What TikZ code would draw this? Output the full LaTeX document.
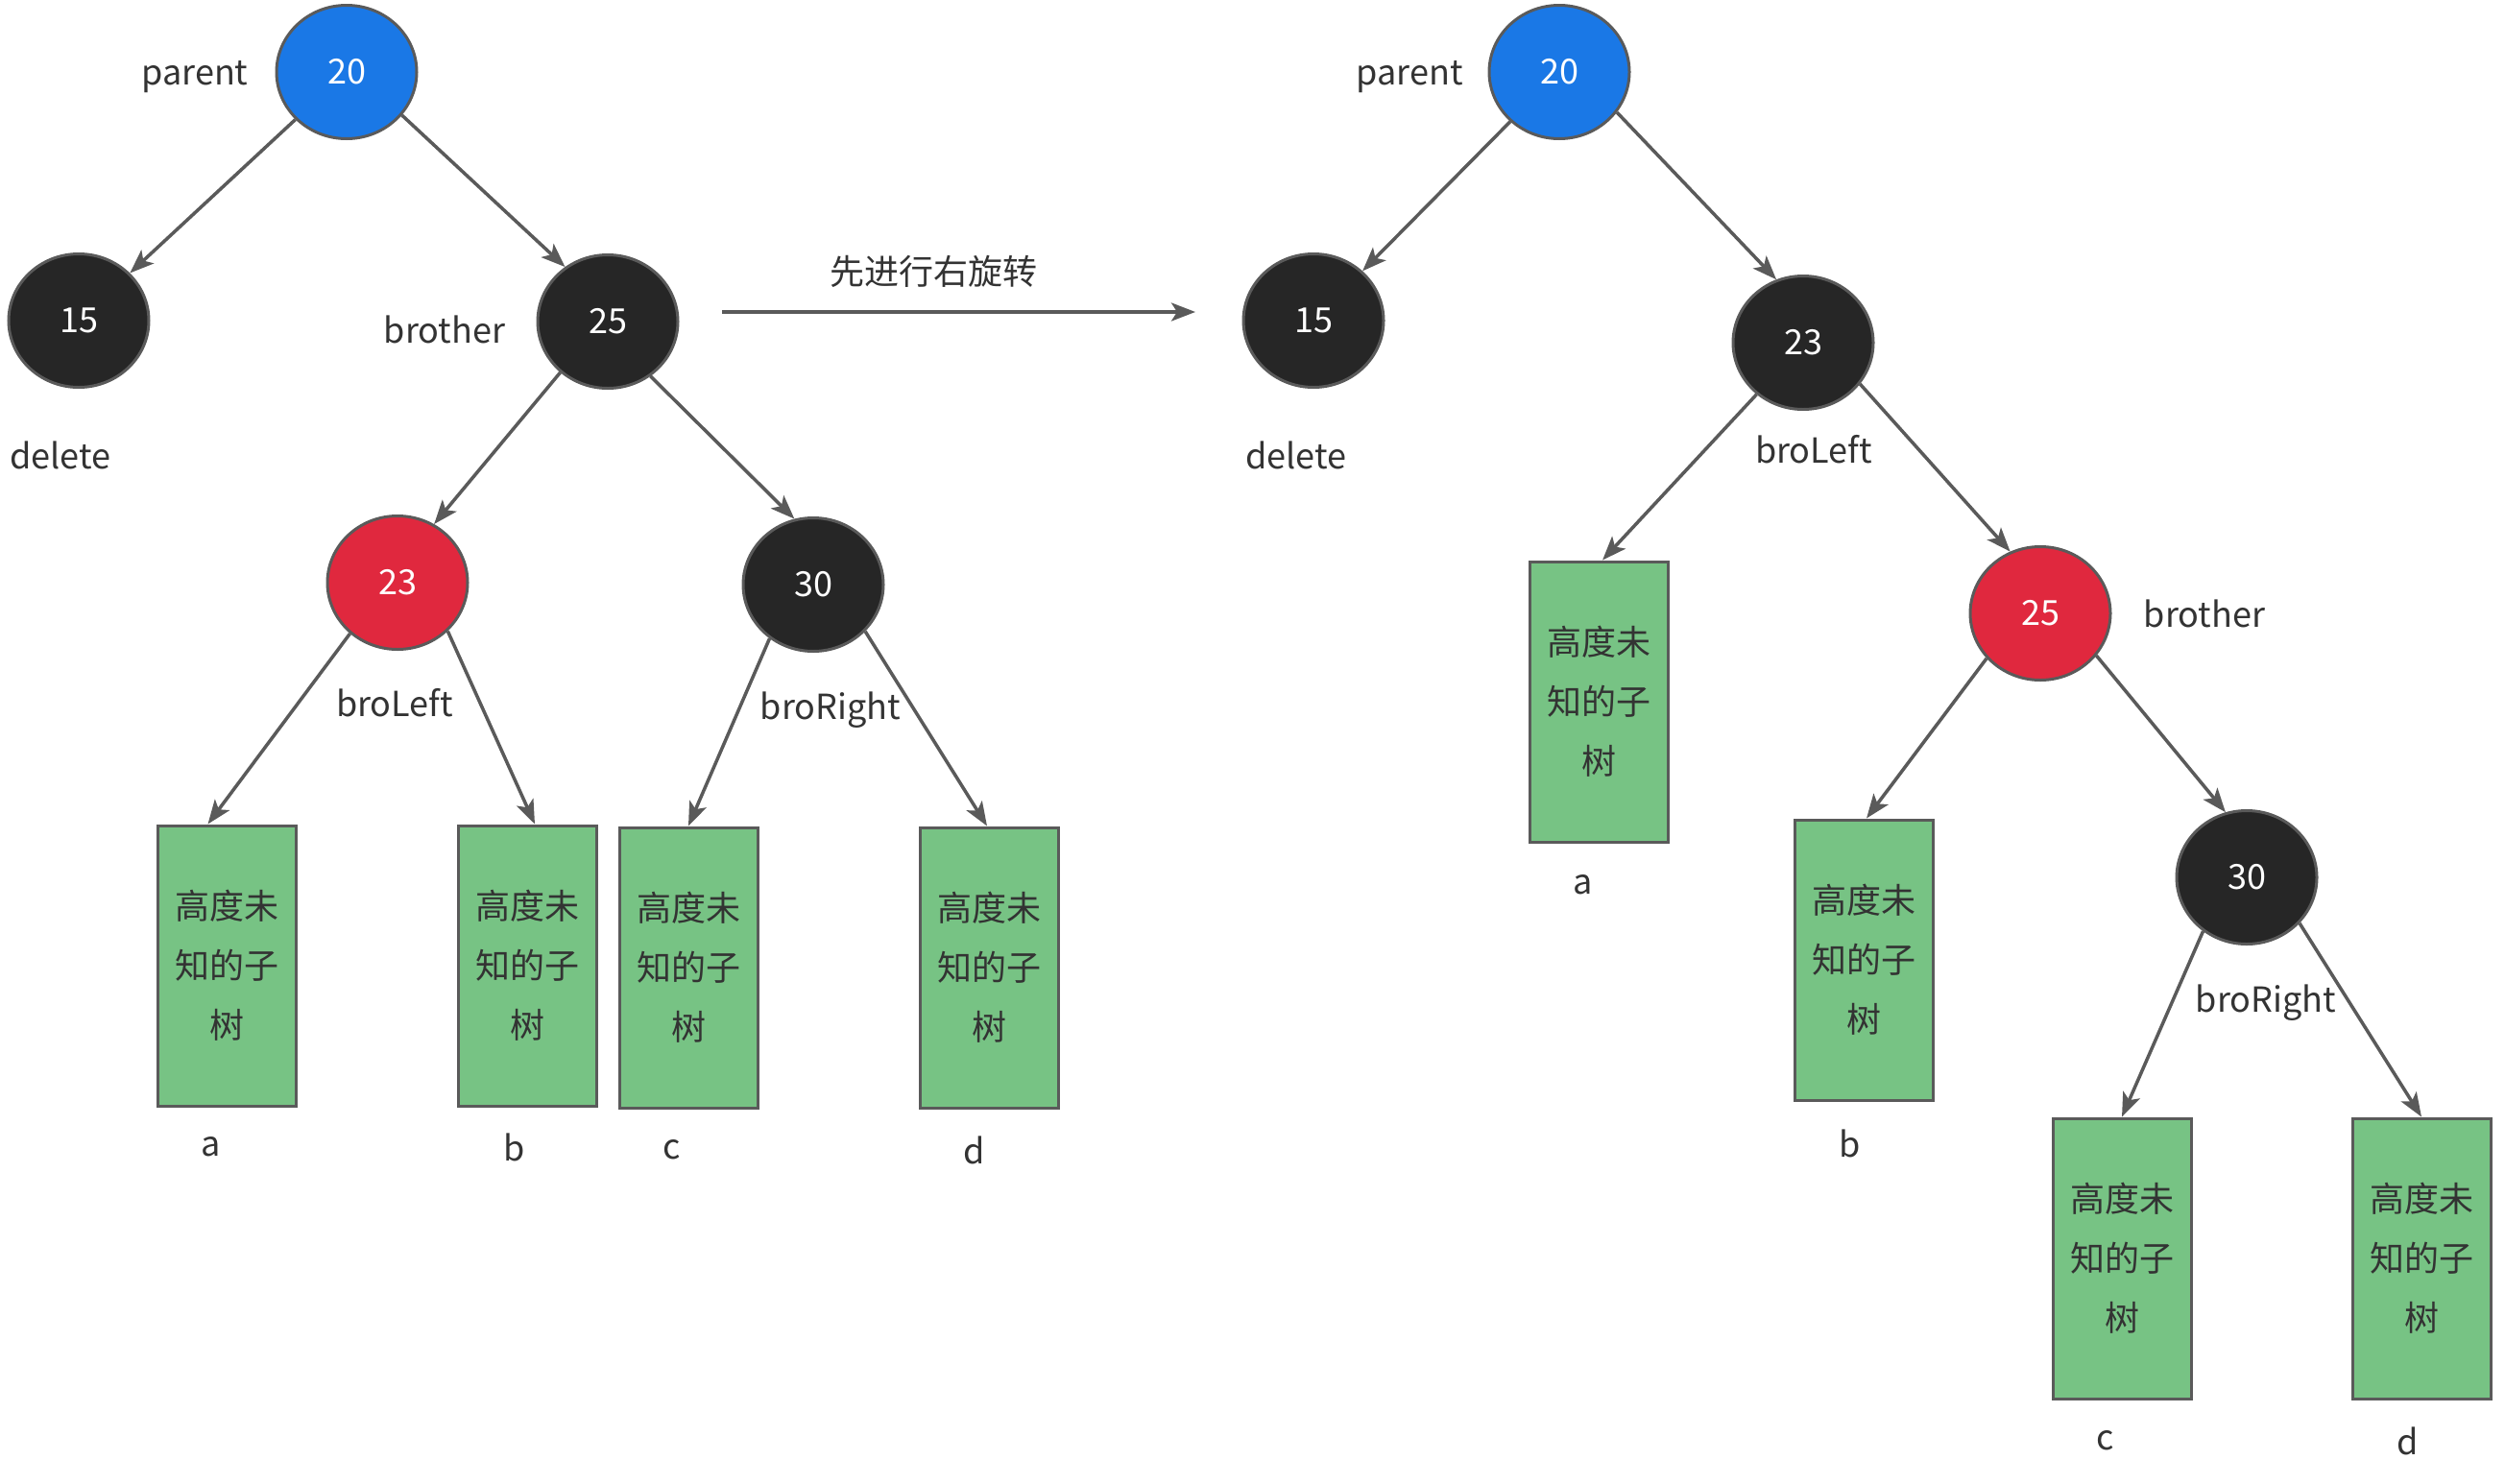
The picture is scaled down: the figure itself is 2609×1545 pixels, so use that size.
\documentclass[tikz,border=0pt]{standalone}
\usepackage{fontspec}
\setmainfont{Noto Sans CJK SC}
\usetikzlibrary{arrows.meta,shapes.geometric}
\definecolor{cblue}{HTML}{1A78E6}
\definecolor{cred}{HTML}{E0283E}
\definecolor{cblack}{HTML}{262626}
\definecolor{cgreen}{HTML}{77C384}
\definecolor{cline}{HTML}{5A5A5A}
\definecolor{ctext}{HTML}{333333}
\tikzset{
  rbnode/.style={ellipse, draw=cline, line width=3pt, minimum width=146pt, minimum height=139pt,
    inner sep=0pt, text=white, font=\fontsize{36}{40}\selectfont},
  blacknode/.style={rbnode, fill=cblack},
  rednode/.style={rbnode, fill=cred},
  bluenode/.style={rbnode, fill=cblue},
  subtree/.style={rectangle, draw=cline, line width=3pt, fill=cgreen, minimum width=144pt,
    minimum height=292pt, align=center, text=ctext, font=\fontsize{36}{62}\selectfont, inner sep=0pt},
  lbl/.style={text=ctext, font=\fontsize{36}{40}\selectfont, inner sep=0pt},
  edge/.style={draw=cline, line width=3.5pt, -{Stealth[length=25pt,width=19pt,inset=6pt]}},
}
\begin{document}
\begin{tikzpicture}[x=1pt,y=-1pt]
\useasboundingbox (0,0) rectangle (2609,1545);
% ---------- left tree ----------
\node[bluenode]  (L20) at (361,75)  {20};
\node[blacknode] (L15) at (82,334)  {15};
\node[blacknode] (L25) at (633,335) {25};
\node[rednode]   (L23) at (414,607) {23};
\node[blacknode] (L30) at (847,609) {30};
\node[subtree] (La) at (236.5,1006) {高度未\\知的子\\树};
\node[subtree] (Lb) at (549,1006)   {高度未\\知的子\\树};
\node[subtree] (Lc) at (717,1008)   {高度未\\知的子\\树};
\node[subtree] (Ld) at (1030,1008)  {高度未\\知的子\\树};
\node[lbl] (Lparent) at (203,80) {parent};
\node[lbl] (Ldelete) at (63,474) {delete};
\node[lbl] (Lbrother) at (463,343) {brother};
\node[lbl] (LbroLeft) at (411,732) {broLeft};
\node[lbl] (LbroRight) at (865,740) {broRight};
\node[lbl] (Lla) at (220,1195) {a};
\node[lbl] (Llb) at (536,1195) {b};
\node[lbl] (Llc) at (700,1198) {c};
\node[lbl] (Lld) at (1015,1198) {d};
\draw[edge] (L20) -- (L15);
\draw[edge] (L20.322) -- (L25.128);
\draw[edge] (L25.227) -- (L23.58);
\draw[edge] (L25.308) -- (L30.106);
\draw[edge] (L23.227) -- ([xshift=-20pt]La.north);
\draw[edge] (L23.316) -- ([xshift=8pt]Lb.north);
\draw[edge] (L30.231) -- (Lc.north);
\draw[edge] (L30.318) -- ([xshift=-2pt]Ld.north);
% ---------- middle arrow ----------
\coordinate (AS) at (752,325);
\coordinate (AE) at (1245,325);
\draw[edge] (AS) -- (AE);
\node[lbl] (rot) at (972,283) {先进行右旋转};
% ---------- right tree ----------
\node[bluenode]  (R20) at (1624,75)  {20};
\node[blacknode] (R15) at (1368,334) {15};
\node[blacknode] (R23) at (1878,357) {23};
\node[rednode]   (R25) at (2125,639) {25};
\node[blacknode] (R30) at (2340,914) {30};
\node[subtree] (Ra) at (1665,731)  {高度未\\知的子\\树};
\node[subtree] (Rb) at (1941,1000) {高度未\\知的子\\树};
\node[subtree] (Rc) at (2210,1311) {高度未\\知的子\\树};
\node[subtree] (Rd) at (2522,1311) {高度未\\知的子\\树};
\node[lbl] (Rparent) at (1468,80) {parent};
\node[lbl] (Rdelete) at (1350,474) {delete};
\node[lbl] (RbroLeft) at (1889,468) {broLeft};
\node[lbl] (Rbrother) at (2296,639) {brother};
\node[lbl] (RbroRight) at (2360,1045) {broRight};
\node[lbl] (Rla) at (1649,922) {a};
\node[lbl] (Rlb) at (1927,1191) {b};
\node[lbl] (Rlc) at (2193,1501) {c};
\node[lbl] (Rld) at (2508,1501) {d};
\draw[edge] (R20) -- (R15);
\draw[edge] (R20.325) -- (R23.113);
\draw[edge] (R23.324) -- (R25.116);
\draw[edge] (R25.323) -- (R30.108);
\draw[edge] (R23.228) -- ([xshift=4pt]Ra.north);
\draw[edge] (R25.220) -- ([xshift=3pt]Rb.north);
\draw[edge] (R30.231) -- (Rc.north);
\draw[edge] (R30.319) -- (Rd.north);
\end{tikzpicture}
\end{document}
